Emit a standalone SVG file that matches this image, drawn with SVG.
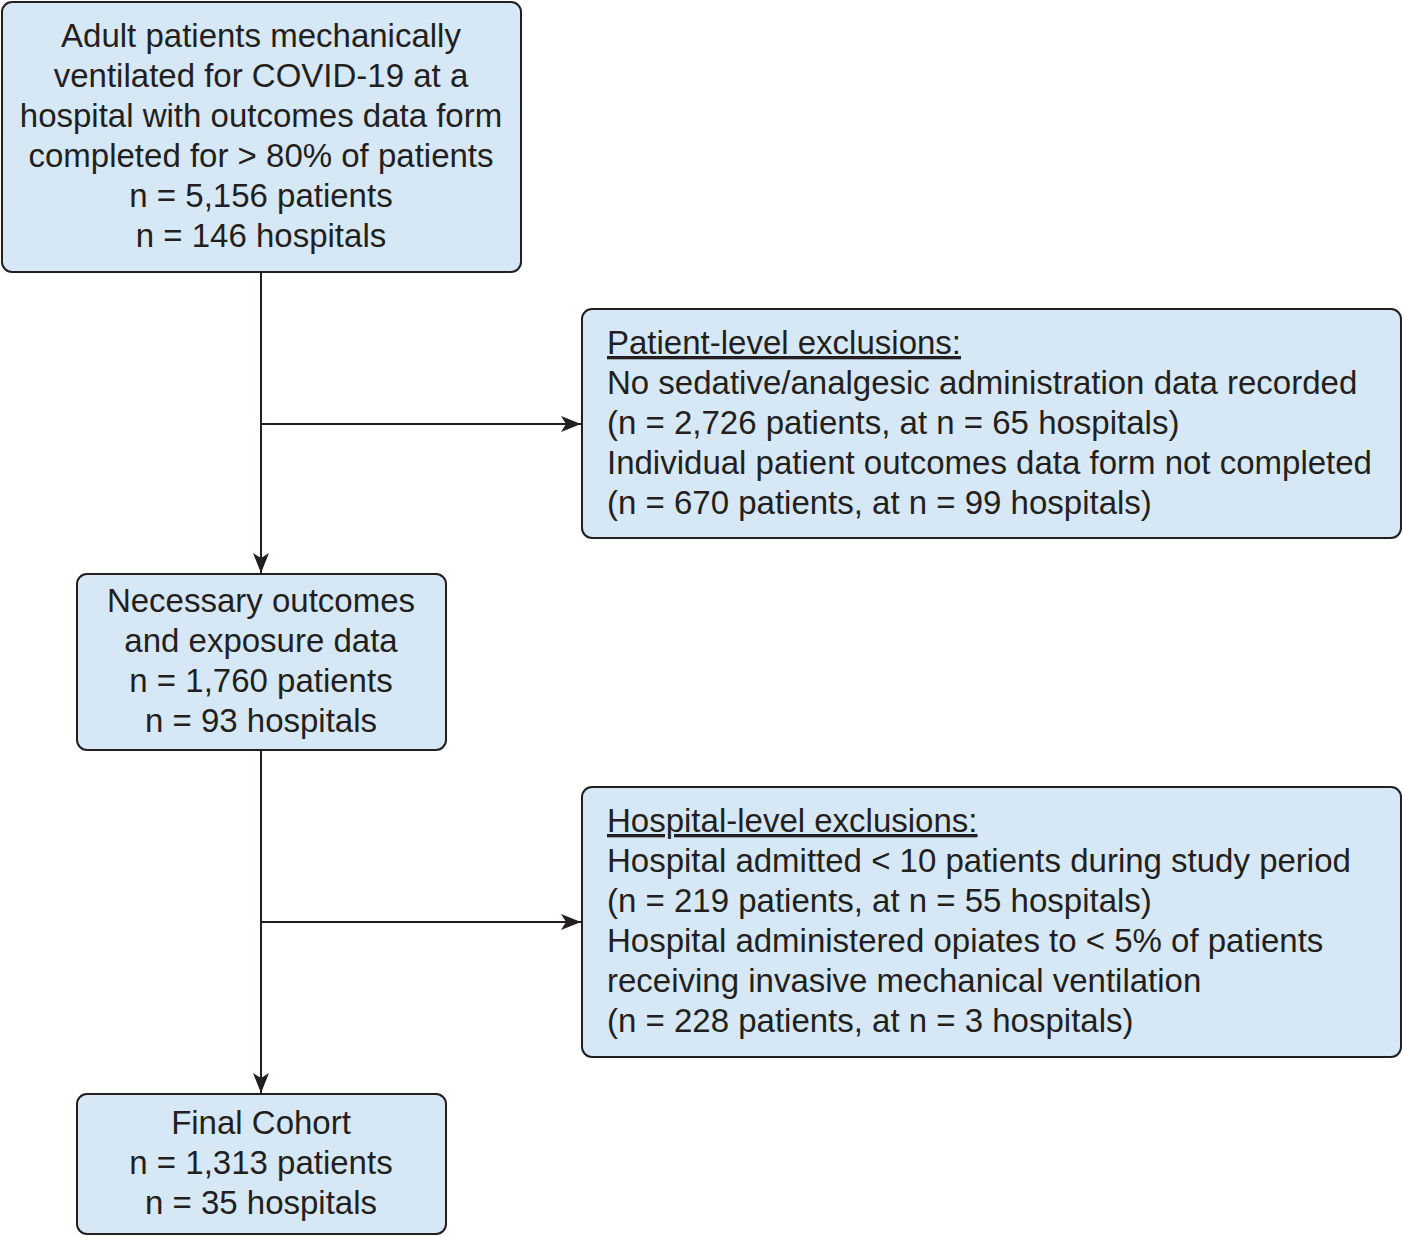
<svg xmlns="http://www.w3.org/2000/svg" width="1403" height="1237" viewBox="0 0 1403 1237">
<style>
.box{fill:#d6e8f5;stroke:#231f20;stroke-width:2}
.t{font-family:"Liberation Sans",Arial,sans-serif;font-size:33px;fill:#231f20}
.c{text-anchor:middle}
.ln{stroke:#231f20;stroke-width:2;fill:none}
</style>
<defs>
<marker id="ah" markerUnits="userSpaceOnUse" markerWidth="22" markerHeight="16" refX="20" refY="8" orient="auto">
<path d="M0,0 L20,8 L0,16 L5,8 Z" fill="#231f20"/>
</marker>
</defs>
<g id="connectors">
<line class="ln" x1="261" y1="272" x2="261" y2="573" marker-end="url(#ah)"/>
<line class="ln" x1="261" y1="424" x2="581" y2="424" marker-end="url(#ah)"/>
<line class="ln" x1="261" y1="750" x2="261" y2="1093" marker-end="url(#ah)"/>
<line class="ln" x1="261" y1="922" x2="581" y2="922" marker-end="url(#ah)"/>
</g>
<g id="n1">
<rect class="box" x="2" y="2" width="519" height="270" rx="10"/>
<text class="t c" x="261" y="47">Adult patients mechanically</text>
<text class="t c" x="261" y="87">ventilated for COVID-19 at a</text>
<text class="t c" x="261" y="127">hospital with outcomes data form</text>
<text class="t c" x="261" y="167">completed for &gt; 80% of patients</text>
<text class="t c" x="261" y="207">n = 5,156 patients</text>
<text class="t c" x="261" y="247">n = 146 hospitals</text>
</g>
<g id="n2">
<rect class="box" x="582" y="309" width="819" height="229" rx="10"/>
<text class="t" x="607" y="354" text-decoration="underline">Patient-level exclusions:</text>
<text class="t" x="607" y="394">No sedative/analgesic administration data recorded</text>
<text class="t" x="607" y="434">(n = 2,726 patients, at n = 65 hospitals)</text>
<text class="t" x="607" y="474">Individual patient outcomes data form not completed</text>
<text class="t" x="607" y="514">(n = 670 patients, at n = 99 hospitals)</text>
</g>
<g id="n3">
<rect class="box" x="77" y="574" width="369" height="176" rx="10"/>
<text class="t c" x="261" y="612">Necessary outcomes</text>
<text class="t c" x="261" y="652">and exposure data</text>
<text class="t c" x="261" y="692">n = 1,760 patients</text>
<text class="t c" x="261" y="732">n = 93 hospitals</text>
</g>
<g id="n4">
<rect class="box" x="582" y="787" width="819" height="270" rx="10"/>
<text class="t" x="607" y="832" text-decoration="underline">Hospital-level exclusions:</text>
<text class="t" x="607" y="872">Hospital admitted &lt; 10 patients during study period</text>
<text class="t" x="607" y="912">(n = 219 patients, at n = 55 hospitals)</text>
<text class="t" x="607" y="952">Hospital administered opiates to &lt; 5% of patients</text>
<text class="t" x="607" y="992">receiving invasive mechanical ventilation</text>
<text class="t" x="607" y="1032">(n = 228 patients, at n = 3 hospitals)</text>
</g>
<g id="n5">
<rect class="box" x="77" y="1094" width="369" height="140" rx="10"/>
<text class="t c" x="261" y="1134">Final Cohort</text>
<text class="t c" x="261" y="1174">n = 1,313 patients</text>
<text class="t c" x="261" y="1214">n = 35 hospitals</text>
</g>
</svg>
